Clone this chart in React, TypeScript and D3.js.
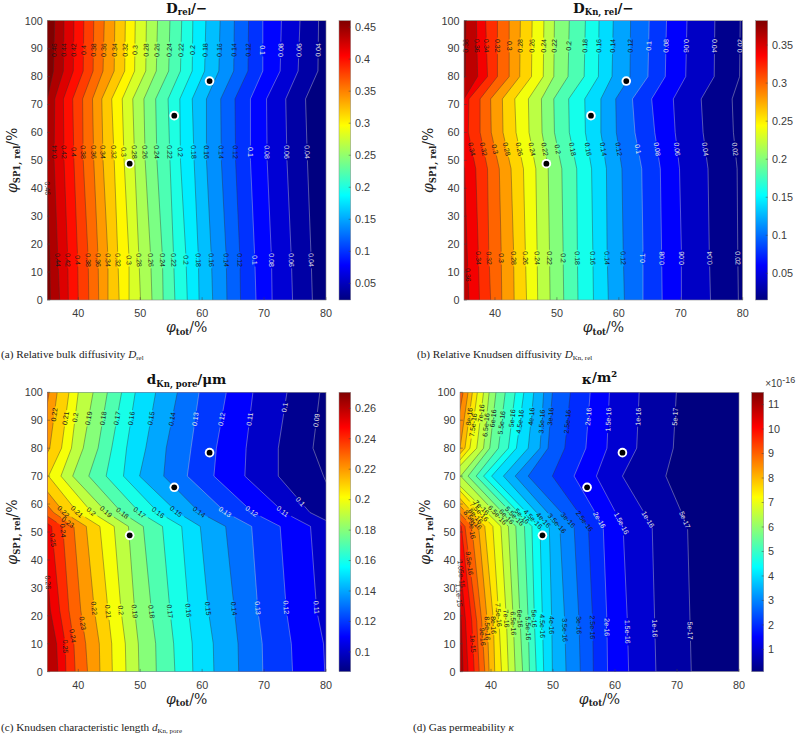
import React from "react";
import * as d3 from "d3";

const phiDomain = [35, 80];
const spDomain = [0, 100];
const phiTicks = [40, 50, 60, 70, 80];
const spTicks = [0, 10, 20, 30, 40, 50, 60, 70, 80, 90, 100];
const markerPhi = [48.3, 55.5, 61.2];
const markerSp = [48.8, 66, 78.4];

// Panel a: relative bulk diffusivity
const aLevels = [0.46, 0.44, 0.42, 0.4, 0.38, 0.36, 0.34, 0.32, 0.3, 0.28, 0.26, 0.24, 0.22, 0.2, 0.18, 0.16, 0.14, 0.12, 0.1, 0.08, 0.06, 0.04];
const aRows = [0, 15, 50, 72, 82, 100];
const aAt0 = [35.5, 37, 38.4, 40, 41.7, 43.3, 44.8, 46.6, 48.2, 50.05, 51.9, 53.7, 55.6, 57.6, 59.5, 61.7, 64, 66.2, 68.7, 71.3, 74.6, 77.8];
const aAt15 = [35.4, 36.7, 38.3, 39.9, 41.6, 43.2, 44.8, 46.4, 48.2, 49.8, 51.7, 53.6, 55.4, 57.4, 59.4, 61.5, 63.9, 66.1, 68.5, 71.2, 74.4, 77.6];
const aAt50 = [34.9, 36.1, 37.7, 39.3, 40.8, 42.5, 44, 45.8, 47.4, 49.1, 50.8, 52.7, 54.8, 56.5, 58.7, 60.7, 63.1, 65.4, 67.8, 70.5, 73.7, 77];
const aAt72 = [35, 36.2, 37.6, 39.1, 40.7, 42.3, 43.8, 45.4, 47.1, 48.8, 50.6, 52.5, 54.5, 56.4, 58.4, 60.7, 63, 65.3, 67.8, 70.4, 73.5, 76.7];
const aAt82 = [36, 37.6, 39.2, 40.8, 42.4, 44, 45.8, 47.5, 49.1, 50.9, 52.6, 54.6, 56.5, 58.4, 60.4, 62.7, 65.1, 67.4, 69.8, 72.6, 75.5, 78.7];
const aAt100 = [36.2, 37.7, 39.3, 40.9, 42.5, 44.2, 45.9, 47.6, 49.2, 51, 52.8, 54.8, 56.7, 58.5, 60.6, 62.9, 65.2, 67.5, 69.8, 72.8, 75.8, 78.8];
const aLabelRows = [89.5, 53, 14.3];
const aLabelExtra = [[0.46, 40]];
const aLightBelow = 0.1;
const aClim = [0.024, 0.46];
const aBarTicks = [0.05, 0.1, 0.15, 0.2, 0.25, 0.3, 0.35, 0.4, 0.45];

// Panel b: relative Knudsen diffusivity
const bLevels = [0.38, 0.36, 0.34, 0.32, 0.3, 0.28, 0.26, 0.24, 0.22, 0.2, 0.18, 0.16, 0.14, 0.12, 0.1, 0.08, 0.06, 0.04, 0.02];
const bRows = [0, 18, 47, 60, 72, 80, 100];
const bAt0 = [34.1, 35.8, 37.5, 39.3, 41.1, 43.1, 45.1, 46.9, 48.9, 51.1, 53.4, 55.9, 58.3, 60.9, 63.9, 67, 70.1, 74.8, 79.3];
const bAt18 = [33.8, 35.5, 37.3, 39, 41, 43, 44.9, 46.8, 48.8, 51, 53.3, 55.8, 58.1, 60.7, 63.9, 66.9, 70.1, 74.6, 79.2];
const bAt47 = [33.3, 35.1, 36.9, 38.8, 40.7, 42.6, 44.6, 46.6, 48.6, 50.8, 53.2, 55.6, 58, 60.5, 63.7, 66.7, 69.8, 74.4, 79.1];
const bAt60 = [31.9, 33.8, 35.7, 37.6, 39.4, 41.3, 43.4, 45.5, 47.6, 49.6, 52, 54.6, 57.1, 59.6, 62.6, 65.8, 69.1, 73.6, 78.5];
const bAt72 = [32.7, 35, 35.8, 37.6, 39.3, 41.2, 43.2, 45.4, 47.5, 49.5, 51.9, 54.5, 57.1, 59.5, 62.2, 65.3, 68.8, 73.3, 78.3];
const bAt80 = [35.2, 37.2, 38.8, 40.4, 42.3, 44, 45.9, 47.8, 49.5, 51.8, 54.4, 56.7, 58.9, 61.8, 64.7, 67.5, 70.8, 75.4, 79.5];
const bAt100 = [35.3, 37, 38.5, 40.4, 42.3, 44.1, 46, 47.9, 49.6, 52, 54.6, 56.8, 59.1, 61.9, 64.9, 67.7, 71, 75.5, 79.6];
const bLabelRows = [91, 54, 15];
const bLightBelow = 0.1;
const bClim = [0.015, 0.382];
const bBarTicks = [0.05, 0.1, 0.15, 0.2, 0.25, 0.3, 0.35];

// Panel c: Knudsen characteristic length
const cLevels = [0.09, 0.1, 0.11, 0.12, 0.13, 0.14, 0.15, 0.16, 0.17, 0.18, 0.19, 0.2, 0.21, 0.22, 0.23, 0.24, 0.25, 0.26];
const cRows = [0, 10, 22, 52, 57, 70, 80, 100];
const cAt0 = [86.5, 83.8, 79.8, 74.6, 69.8, 65.9, 61.9, 58.5, 55.6, 52.6, 49.8, 47.7, 45.5, 43.5, 41.5, 39.5, 38, 36.7];
const cAt10 = [86.4, 83.6, 79.6, 74.4, 69.7, 65.8, 61.8, 58.4, 55.4, 52.5, 49.7, 47.6, 45.4, 43.4, 41.2, 39.3, 37.9, 36.5];
const cAt22 = [86, 83, 78.5, 73.6, 69, 65.2, 61, 57.8, 54.8, 51.8, 49.1, 46.9, 44.8, 42.6, 40.4, 38.5, 37, 35.5];
const cAt52 = [84.4, 81.9, 77.5, 72.6, 68, 63.8, 59.7, 56.7, 53.6, 50.5, 48.1, 45.8, 43.5, 41.3, 39.3, 37.5, 35.7, 34.4];
const cAt57 = [82.2, 77.4, 73.2, 68.2, 63.8, 59.6, 56, 52.9, 49.9, 47, 44.6, 42.2, 39.9, 37.7, 36, 34.1, 32.5, 30.6];
const cAt70 = [79.6, 72.3, 66.9, 61.9, 57.6, 53.8, 49.9, 47.3, 44.5, 41.7, 39.1, 37.2, 35.2, 33, 31.1, 29.5, 27.9, 26.3];
const cAt80 = [77.9, 72.3, 67.1, 62.3, 58.2, 54.2, 50.9, 47.8, 45.4, 43.2, 40.8, 38.9, 37.3, 35.4, 33.8, 32.2, 30.6, 29];
const cAt100 = [79, 73.7, 68.2, 63.9, 59.5, 56, 52.5, 49.2, 47, 44.7, 42.4, 40, 38.5, 36.6, 35.3, 33.8, 32.2, 30.6];
const cTopLabelLevels = [0.09, 0.1, 0.11, 0.12, 0.13, 0.14, 0.15, 0.16, 0.17, 0.18, 0.19, 0.2, 0.21, 0.22];
const cTopLabelY = [90, 94.6, 90.4, 90.4, 90.4, 90.4, 90.7, 90.7, 90.7, 90.7, 90.7, 91, 90.7, 92];
const cMidLabelLevels = [0.1, 0.11, 0.12, 0.13, 0.14, 0.15, 0.16, 0.17, 0.18, 0.19, 0.2, 0.21, 0.22, 0.23, 0.24, 0.25];
const cMidLabelY = [60.9, 57.4, 57.4, 57.2, 57.2, 57.4, 57, 57, 56.8, 57.3, 57.3, 57.3, 57.3, 53.5, 50.5, 47.1];
const cLowLabelLevels = [0.11, 0.12, 0.13, 0.14, 0.15, 0.16, 0.17, 0.18, 0.19, 0.2, 0.21, 0.22, 0.23, 0.24, 0.25, 0.26];
const cLowLabelY = [23, 23, 22.8, 22.6, 22.6, 22, 21.6, 21.5, 21.6, 22, 21.5, 22.7, 17.3, 12.8, 9, 32];
const cLightBelow = 0.13;
const cClim = [0.087, 0.2705];
const cBarTicks = [0.1, 0.12, 0.14, 0.16, 0.18, 0.2, 0.22, 0.24, 0.26];

// Panel d: gas permeability (units of 1e-16 m2)
const dLevels = [0.5, 1, 1.5, 2, 2.5, 3, 3.5, 4, 4.5, 5, 5.5, 6, 6.5, 7, 7.5, 8, 8.5, 9, 9.5, 10, 10.5, 11];
const dNames = ["5e-17", "1e-16", "1.5e-16", "2e-16", "2.5e-16", "3e-16", "3.5e-16", "4e-16", "4.5e-16", "5e-16", "5.5e-16", "6e-16", "6.5e-16", "7e-16", "7.5e-16", "8e-16", "8.5e-16", "9e-16", "9.5e-16", "1e-15", "1.05e-15", "1.1e-15"];
const dRows = [0, 18, 52, 70, 80, 100];
const dAt0 = [72.3, 66.6, 62.2, 58.8, 56.5, 54.4, 52.1, 49.9, 48.5, 47.3, 46.2, 45.1, 43.9, 42.8, 41.7, 40.6, 39.7, 39, 38.1, 37.3, 36.3, 35.5];
const dAt18 = [72.1, 66.4, 62, 58.7, 56.4, 54.2, 51.9, 49.8, 48.3, 47, 46, 44.7, 43.6, 42.5, 41.3, 40.4, 39.4, 38.5, 37.7, 36.9, 35.9, 35.2];
const dAt52 = [71.7, 66, 61.3, 58.1, 55.7, 53.4, 51.1, 49.4, 47.9, 46.6, 45.4, 44, 42.8, 41.6, 40.3, 39, 38, 36.9, 35.8, 35.2, 34.5, 33.9];
const dAt70 = [68.2, 61.2, 57, 53.4, 49.9, 46, 43.9, 42, 40.1, 38.8, 37.6, 36.3, 35.1, 33.4, 32.8, 31.8, 30.7, 29.6, 28.5, 27.5, 26.4, 25.3];
const dAt80 = [69.4, 63.5, 58.7, 55.3, 51.9, 49.2, 47.9, 46, 44.1, 42.8, 41.2, 39.8, 38.8, 37.7, 36.6, 35.8, 35, 33.9, 32.8, 31.8, 30.7, 29.6];
const dAt100 = [69.9, 63.9, 59.1, 56, 52.8, 49.9, 48.5, 46.9, 45.3, 43.9, 42.3, 40.8, 39.7, 38.8, 37.8, 37, 36.3, 35.5, 34.7, 33.7, 32.6, 31.5];
const dTopLabelLevels = [0.5, 1, 1.5, 2, 2.5, 3, 3.5, 4, 4.5, 5, 5.5, 6, 6.5, 7, 7.5, 8];
const dTopLabelY = [91.3, 91.3, 90.3, 91.3, 89.5, 91.3, 89.5, 91.3, 89.5, 90.7, 89.1, 90.7, 88.3, 92.5, 88.3, 91.3];
const dMidLabelLevels = [0.5, 1, 1.5, 2, 2.5, 3, 3.5, 4, 4.5, 5, 5.5, 6, 6.5, 7, 7.5, 8, 8.5, 9];
const dMidLabelY = [54.3, 54.5, 53.1, 54.3, 53.9, 54.3, 53.1, 54.3, 54.6, 55.7, 55.7, 55.5, 56.1, 58.8, 57.3, 55.7, 54.3, 50.7];
const dLowLabelLevels = [0.5, 1, 1.5, 2, 2.5, 3, 3.5, 4, 4.5, 5, 5.5, 6, 6.5, 7, 7.5, 8, 8.5, 9, 9.5, 10, 10.5, 11];
const dLowLabelY = [14.7, 15.5, 14.3, 15.9, 15.9, 16.7, 14.9, 16.7, 16.3, 19, 15.5, 19, 17.3, 19, 20.3, 16.7, 15.5, 12.5, 38.8, 10, 35, 27.4];
const dLightBelow = 2;
const dClim = [0.09, 11.5];
const dBarTicks = [1, 2, 3, 4, 5, 6, 7, 8, 9, 10, 11];

const jet = (t: number) => {
  const c = (v: number) => Math.round(255 * Math.max(0, Math.min(1, v)));
  const r = Math.min(4 * t - 1.5, -4 * t + 4.5);
  const g = Math.min(4 * t - 0.5, -4 * t + 3.5);
  const b = Math.min(4 * t + 0.5, -4 * t + 2.5);
  return d3.rgb(c(r), c(g), c(b)).formatRgb();
};

type Lab = { level: number; y: number; flip?: boolean };
const group = (levels: number[], y: number | number[], flip: number[] = []): Lab[] =>
  levels.map((level, i) => ({ level, y: Array.isArray(y) ? y[i] : y, flip: flip.includes(level) }));

const serif = "'Liberation Serif', serif";
const wideSerif = "'DejaVu Serif', serif";
const sans = "'Liberation Sans', Arial, sans-serif";
const tickColor = "#3a3a3a";

const layouts: any[] = [
  {
    id: "a", left: 47.3, right: 326, top: 20.7, bottom: 300, barL: 339, barR: 350.7, labelX: 17, titleX: 186,
    levels: aLevels, rows: aRows, table: [aAt0, aAt15, aAt50, aAt72, aAt82, aAt100], clim: aClim, barTicks: aBarTicks, light: aLightBelow,
    labels: [
      ...group(aLevels, aLabelRows[0]),
      ...group(aLevels.slice(1), aLabelRows[1]),
      ...group(aLevels.slice(1), aLabelRows[2]),
      ...aLabelExtra.map(([level, y]) => ({ level, y })),
    ],
    title: ["D", "rel", "/−"], caption: ["(a) Relative bulk diffusivity ", "D", "rel"], capX: 1, capY: 358,
  },
  {
    id: "b", left: 464, right: 742.7, top: 20.7, bottom: 300, barL: 755.7, barR: 767.7, labelX: 433, titleX: 603,
    levels: bLevels, rows: bRows, table: [bAt0, bAt18, bAt47, bAt60, bAt72, bAt80, bAt100], clim: bClim, barTicks: bBarTicks, light: bLightBelow,
    labels: [
      ...group(bLevels, bLabelRows[0], [0.06, 0.04]),
      ...group(bLevels.slice(2), bLabelRows[1]),
      ...group(bLevels.slice(2), bLabelRows[2], [0.1, 0.08, 0.06, 0.04]),
      { level: 0.36, y: 9 },
    ],
    title: ["D", "Kn, rel", "/−"], caption: ["(b) Relative Knudsen diffusivity ", "D", "Kn, rel"], capX: 417, capY: 358,
  },
  {
    id: "c", left: 47.3, right: 326, top: 392.3, bottom: 671.7, barL: 339, barR: 350.7, labelX: 17, titleX: 186,
    levels: cLevels, rows: cRows, table: [cAt0, cAt10, cAt22, cAt52, cAt57, cAt70, cAt80, cAt100], clim: cClim, barTicks: cBarTicks, light: cLightBelow,
    labels: [...group(cTopLabelLevels, cTopLabelY), ...group(cMidLabelLevels, cMidLabelY), ...group(cLowLabelLevels, cLowLabelY)],
    title: ["d", "Kn, pore", "/μm"], caption: ["(c) Knudsen characteristic length ", "d", "Kn, pore"], capX: 1, capY: 731,
  },
  {
    id: "d", left: 460, right: 739, top: 392.3, bottom: 671.7, barL: 751.7, barR: 763.7, labelX: 430, titleX: 599,
    levels: dLevels, rows: dRows, table: [dAt0, dAt18, dAt52, dAt70, dAt80, dAt100], clim: dClim, barTicks: dBarTicks, light: dLightBelow, names: dNames,
    labels: [...group(dTopLabelLevels, dTopLabelY), ...group(dMidLabelLevels, dMidLabelY), ...group(dLowLabelLevels, dLowLabelY)],
    title: ["κ", "", "/m²"], caption: ["(d) Gas permeability ", "κ", ""], capX: 413, capY: 731, exponent: true,
  },
];

function Panel({ p }: { p: any }) {
  const x = d3.scaleLinear().domain(phiDomain).range([p.left, p.right]);
  const y = d3.scaleLinear().domain(spDomain).range([p.bottom, p.top]);
  const tOf = d3.scaleLinear().domain(p.clim).range([0, 1]).clamp(true);
  const barY = d3.scaleLinear().domain(p.clim).range([p.bottom, p.top]);
  const column = (i: number) => p.rows.map((_: number, r: number) => p.table[r][i]) as number[];
  const order = d3.range(p.levels.length).sort((u, v) => p.levels[u] - p.levels[v]);
  const lineGen = d3.line<[number, number]>().x((d) => x(d[0])).y((d) => y(d[1]));
  const areaGen = d3.area<[number, number]>().x0(p.left).x1((d) => x(d[0])).y((d) => y(d[1]));
  const fontSize = 7;

  const placed = p.labels.map((lab: Lab) => {
    const i = p.levels.indexOf(lab.level);
    const phiAt = d3.scaleLinear().domain(p.rows).range(column(i));
    const px = x(phiAt(lab.y));
    const py = y(lab.y);
    const dx = x(phiAt(Math.max(lab.y - 1, 0))) - x(phiAt(Math.min(lab.y + 1, 100)));
    const dy = y(Math.max(lab.y - 1, 0)) - y(Math.min(lab.y + 1, 100));
    let angle = (Math.atan2(dy, dx) * 180) / Math.PI;
    if (angle > 90.5) angle -= 180;
    if (lab.flip) angle = angle > 0 ? angle - 180 : angle + 180;
    const text = p.names ? p.names[i] : String(lab.level);
    const half = (text.length * 0.52 * fontSize) / 2 + 1;
    const gap = (half * Math.abs(Math.sin((angle * Math.PI) / 180))) / ((p.bottom - p.top) / 100);
    return { i, px, py, angle, text, y0: lab.y - gap, y1: lab.y + gap, level: lab.level };
  });

  const segments = (i: number) => {
    const phis = column(i);
    const phiAt = d3.scaleLinear().domain(p.rows).range(phis);
    const gaps = placed.filter((l: any) => l.i === i).sort((u: any, v: any) => u.y0 - v.y0);
    const out: [number, number][][] = [];
    let start = 0;
    const push = (a: number, b: number) => {
      if (b <= a) return;
      const inner = p.rows.filter((r: number) => r > a && r < b);
      out.push([a, ...inner, b].map((r: number) => [phiAt(r), r] as [number, number]));
    };
    gaps.forEach((g: any) => {
      push(start, g.y0);
      start = g.y1;
    });
    push(start, 100);
    return out;
  };

  const barStops = d3.range(0, 65);
  const cx = (p.left + p.right) / 2;

  return (
    <g>
      <defs>
        <clipPath id={`clip-${p.id}`}>
          <rect x={p.left} y={p.top} width={p.right - p.left} height={p.bottom - p.top} />
        </clipPath>
        <linearGradient id={`bar-${p.id}`} x1="0" y1="1" x2="0" y2="0">
          {barStops.map((s) => (
            <stop key={s} offset={s / 64} stopColor={jet(s / 64)} />
          ))}
        </linearGradient>
      </defs>

      <g clipPath={`url(#clip-${p.id})`}>
        <rect x={p.left} y={p.top} width={p.right - p.left} height={p.bottom - p.top} fill={jet(0)} />
        {order.map((i) => (
          <path
            key={i}
            d={areaGen(column(i).map((phi, r) => [phi, p.rows[r]] as [number, number])) as string}
            fill={jet(tOf(p.levels[i]))}
          />
        ))}
        {order.map((i) =>
          segments(i).map((seg, k) => (
            <path
              key={`${i}-${k}`}
              d={lineGen(seg) as string}
              fill="none"
              stroke={p.levels[i] <= p.light ? "#d0d0d0" : "#303030"}
              strokeOpacity={p.levels[i] <= p.light ? 0.7 : 0.65}
              strokeWidth={0.6}
            />
          ))
        )}
      </g>

      {placed.map((l: any, k: number) => (
        <text
          key={k}
          transform={`translate(${l.px},${l.py}) rotate(${l.angle})`}
          textAnchor="middle"
          dominantBaseline="central"
          fontFamily={sans}
          fontSize={fontSize}
          fill={l.level <= p.light ? "#e6e6e6" : "#1a1a1a"}
        >
          {l.text}
        </text>
      ))}

      {markerPhi.map((phi, i) => (
        <g key={i}>
          <circle cx={x(phi)} cy={y(markerSp[i])} r={4.8} fill="#fff" />
          <circle cx={x(phi)} cy={y(markerSp[i])} r={2.9} fill="#000" />
        </g>
      ))}

      <rect x={p.left} y={p.top} width={p.right - p.left} height={p.bottom - p.top} fill="none" stroke="#8a8a8a" strokeWidth={0.6} />
      {phiTicks.map((t) => (
        <g key={t}>
          <line x1={x(t)} x2={x(t)} y1={p.bottom} y2={p.bottom - 2.8} stroke="#404040" strokeWidth={0.5} />
          <text x={x(t)} y={p.bottom + 17} textAnchor="middle" fontFamily={sans} fontSize={10.8} fill={tickColor}>{t}</text>
        </g>
      ))}
      {spTicks.map((t) => (
        <g key={t}>
          <line x1={p.left} x2={p.left + 2.8} y1={y(t)} y2={y(t)} stroke="#404040" strokeWidth={0.5} />
          <text x={p.left - 4.5} y={y(t) + 3.8} textAnchor="end" fontFamily={sans} fontSize={10.8} fill={tickColor}>{t}</text>
        </g>
      ))}

      <rect x={p.barL} y={p.top} width={p.barR - p.barL} height={p.bottom - p.top} fill={`url(#bar-${p.id})`} stroke="#8a8a8a" strokeWidth={0.5} />
      {p.barTicks.map((t: number) => (
        <g key={t}>
          <line x1={p.barR - 2} x2={p.barR} y1={barY(t)} y2={barY(t)} stroke="#404040" strokeWidth={0.5} />
          <text x={p.barR + 4.3} y={barY(t) + 3.8} fontFamily={sans} fontSize={10.8} fill={tickColor}>{t}</text>
        </g>
      ))}
      {p.exponent && (
        <text x={p.barL + 13.5} y={p.top - 5.5} fontFamily={sans} fontSize={10} fill={tickColor}>
          ×10
          <tspan dy={-3.5} fontSize={9}>-16</tspan>
        </text>
      )}

      <text x={cx} y={p.top - 8} textAnchor="middle" fontFamily={wideSerif} fontWeight="bold" fontSize={13.5} fill="#111">
        {p.title[0]}
        <tspan dy={2.5} fontSize={8.5}>{p.title[1]}</tspan>
        <tspan dy={-2.5}>{p.title[2]}</tspan>
      </text>
      <text x={cx} y={p.bottom + 32} textAnchor="middle" fontFamily={wideSerif} fontSize={14} fill="#222">
        <tspan fontStyle="italic">φ</tspan>
        <tspan dy={2.5} fontSize={8.5} fontWeight="bold">tot</tspan>
        <tspan dy={-2.5}>/%</tspan>
      </text>
      <text
        transform={`translate(${p.labelX},${(p.top + p.bottom) / 2}) rotate(-90)`}
        textAnchor="middle"
        fontFamily={wideSerif}
        fontSize={14}
        fill="#222"
      >
        <tspan fontStyle="italic">φ</tspan>
        <tspan dy={2.5} fontSize={8.5} fontWeight="bold">SP1, rel</tspan>
        <tspan dy={-2.5}>/%</tspan>
      </text>

      <text x={p.capX} y={p.capY} fontFamily={serif} fontSize={11.2} fill="#222">
        {p.caption[0]}
        <tspan fontStyle="italic">{p.caption[1]}</tspan>
        <tspan dy={1.5} fontSize={7}>{p.caption[2]}</tspan>
      </text>
    </g>
  );
}

export default function App() {
  return (
    <svg width={800} height={736} style={{ position: "absolute", left: 0, top: 0, background: "#fff" }}>
      {layouts.map((p) => (
        <Panel key={p.id} p={p} />
      ))}
    </svg>
  );
}
